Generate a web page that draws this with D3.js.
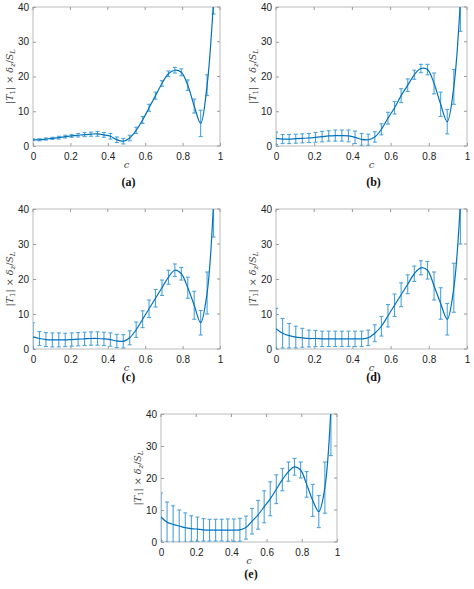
<!DOCTYPE html>
<html><head><meta charset="utf-8">
<script src="https://cdn.jsdelivr.net/npm/d3@7"></script>
<style>body{margin:0;background:#fff}</style></head>
<body><svg id="c" width="474" height="589"></svg>
<script>
const cVals = d3.range(29).map(i => i / 29);
const meanA = [1.8,1.8,2.0,2.2,2.4,2.7,2.9,3.1,3.3,3.4,3.5,3.2,2.8,1.8,1.4,2.3,4.5,7.5,11,14.5,18,20.8,21.8,21.2,17.5,11.5,6.5,17.5,42];
const errA  = [0.3,0.3,0.3,0.3,0.4,0.4,0.4,0.5,0.6,0.6,0.7,0.7,0.8,0.8,0.8,0.8,0.9,1,1,1,0.8,0.8,0.8,1,1.5,2,3.8,3,4];
const meanB = [2.2,2.0,2.0,2.1,2.2,2.3,2.5,2.7,2.9,3.0,3.0,2.9,2.5,1.9,1.8,2.6,4.8,8,11,14.5,17.5,20.5,22.3,22,18,12,7,17,42];
const errB  = [1.8,1.3,1.3,1.3,1.3,1.3,1.4,1.5,1.5,1.6,1.6,1.7,1.8,1.7,1.6,1.5,1.6,1.7,1.8,2,1.8,1.3,1.2,1.5,3,3.5,3.5,5,9];
const meanC = [3.5,3.0,2.7,2.6,2.6,2.6,2.7,2.8,2.9,3.0,3.0,2.9,2.7,2.3,2.2,3.2,5.5,8.5,11.5,14.5,17.5,20.5,22.5,21.5,17.5,12.5,7.5,16,42];
const errC  = [4,2,2,2,2,1.9,1.9,1.9,1.9,1.9,1.9,1.9,1.9,1.9,1.9,2,2.2,2.4,2.5,2.5,2.2,2,1.8,1.8,3,4,3.5,6,10];
const meanD = [5.8,4.5,3.8,3.4,3.2,3.0,3.0,2.9,2.9,2.9,2.9,2.9,2.9,2.9,3.2,4.5,6.5,9.5,12.5,15.5,18.5,21.5,23.2,22.5,18,13,8.5,17.5,42];
const errD  = [5.8,4.2,3.5,3.1,2.7,2.4,2.3,2.2,2.2,2.2,2.2,2.2,2.2,2.2,2.2,2.4,2.8,3.2,3.2,3.4,2.7,2.2,2,2.5,4,4.5,4.5,7,12];
const meanE = [7.8,6.2,5.5,5.0,4.5,4.2,4.0,3.8,3.7,3.7,3.7,3.7,3.7,3.8,4.5,6.5,8.5,11,13.5,16.5,19.5,22,23.5,22.5,18,13,9.5,17,42];
const errE  = [7.5,6.3,5.8,5,4.6,4,3.8,3.5,3.4,3.4,3.4,3.5,3.5,3.6,3.6,4,4.5,5,5.3,4.5,3.5,3,2.6,2.5,4,5,5,8,15];
const xTicks = [0,0.2,0.4,0.6,0.8,1];
const yTicks = [0,10,20,30,40];
const panels = [
 {lab:"(a)", m:meanA, e:errA, L:33, R:220, T:7, B:146, ly:186},
 {lab:"(b)", m:meanB, e:errB, L:276, R:467, T:7, B:146, ly:186},
 {lab:"(c)", m:meanC, e:errC, L:33, R:220, T:209, B:349, ly:381},
 {lab:"(d)", m:meanD, e:errD, L:276, R:467, T:209, B:349, ly:381},
 {lab:"(e)", m:meanE, e:errE, L:161, R:337, T:414, B:542, ly:578}
];
const svg = d3.select("#c");
const col = "#0072BD", ecol = "#4da3db";
panels.forEach((p, k) => {
  const x = d3.scaleLinear().domain([0,1]).range([p.L, p.R]);
  const y = d3.scaleLinear().domain([0,40]).range([p.B, p.T]);
  const g = svg.append("g");
  const cid = "clip" + k;
  g.append("clipPath").attr("id", cid).append("rect")
    .attr("x", p.L).attr("y", p.T).attr("width", p.R - p.L).attr("height", p.B - p.T);
  const ax = g.append("g").attr("transform", `translate(0,${p.B})`)
    .call(d3.axisBottom(x).tickValues(xTicks).tickFormat(d3.format("~g")).tickSizeInner(-3).tickSizeOuter(0));
  const ay = g.append("g").attr("transform", `translate(${p.L},0)`)
    .call(d3.axisLeft(y).tickValues(yTicks).tickSizeInner(-3).tickSizeOuter(0));
  [ax, ay].forEach(a => {
    a.selectAll("text").attr("font-family", "Liberation Sans, Arial").attr("font-size", 10).attr("fill", "#222");
    a.selectAll("line,path").attr("stroke", "#999");
    a.select(".domain").remove();
  });
  ax.selectAll("text").attr("dy", "1.1em");
  ay.selectAll("text").attr("x", -4);
  g.append("rect").attr("x", p.L).attr("y", p.T).attr("width", p.R - p.L).attr("height", p.B - p.T)
    .attr("fill", "none").attr("stroke", "#aaa").attr("stroke-width", 0.8);
  xTicks.forEach(t => g.append("line").attr("x1", x(t)).attr("x2", x(t)).attr("y1", p.T).attr("y2", p.T + 3).attr("stroke", "#999"));
  yTicks.forEach(t => g.append("line").attr("x1", p.R).attr("x2", p.R - 3).attr("y1", y(t)).attr("y2", y(t)).attr("stroke", "#999"));
  const pg = g.append("g").attr("clip-path", `url(#${cid})`);
  const pts = cVals.map((c, i) => ({c, m: p.m[i], e: p.e[i]}));
  const eb = pg.selectAll(".eb").data(pts).enter().append("g").attr("stroke", ecol).attr("stroke-width", 1.1);
  eb.append("line").attr("x1", d => x(d.c)).attr("x2", d => x(d.c)).attr("y1", d => y(Math.max(0, d.m - d.e))).attr("y2", d => y(d.m + d.e));
  eb.append("line").attr("x1", d => x(d.c) - 2).attr("x2", d => x(d.c) + 2).attr("y1", d => y(Math.max(0, d.m - d.e))).attr("y2", d => y(Math.max(0, d.m - d.e)));
  eb.append("line").attr("x1", d => x(d.c) - 2).attr("x2", d => x(d.c) + 2).attr("y1", d => y(d.m + d.e)).attr("y2", d => y(d.m + d.e));
  pg.append("path").datum(pts).attr("fill", "none").attr("stroke", col).attr("stroke-width", 1.2)
    .attr("d", d3.line().x(d => x(d.c)).y(d => y(d.m)).curve(d3.curveCatmullRom));
  g.append("text").attr("x", (p.L + p.R) / 2).attr("y", p.B + 22).attr("text-anchor", "middle")
    .attr("font-family", "DejaVu Serif, serif").attr("font-style", "italic").attr("font-size", 10).attr("fill", "#444").text("c");
  const yl = g.append("text").attr("transform", `translate(${p.L - 20},${(p.T + p.B) / 2}) rotate(-90)`)
    .attr("text-anchor", "middle").attr("font-family", "DejaVu Serif, serif").attr("font-size", 9.5).attr("fill", "#444");
  yl.append("tspan").text("|");
  yl.append("tspan").attr("font-style", "italic").text("T");
  yl.append("tspan").attr("font-size", 7).attr("dy", 2).text("1");
  yl.append("tspan").attr("dy", -2).text("| × ");
  yl.append("tspan").attr("font-style", "italic").text("δ");
  yl.append("tspan").attr("font-style", "italic").attr("font-size", 7).attr("dy", 2).text("z");
  yl.append("tspan").attr("dy", -2).text("/");
  yl.append("tspan").attr("font-style", "italic").text("S");
  yl.append("tspan").attr("font-style", "italic").attr("font-size", 7).attr("dy", 2).text("L");
  g.append("text").attr("x", (p.L + p.R) / 2 + 2).attr("y", p.ly).attr("text-anchor", "middle")
    .attr("font-family", "Liberation Serif, serif").attr("font-weight", "bold").attr("font-size", 12).attr("fill", "#111").text(p.lab);
});
</script></body></html>
